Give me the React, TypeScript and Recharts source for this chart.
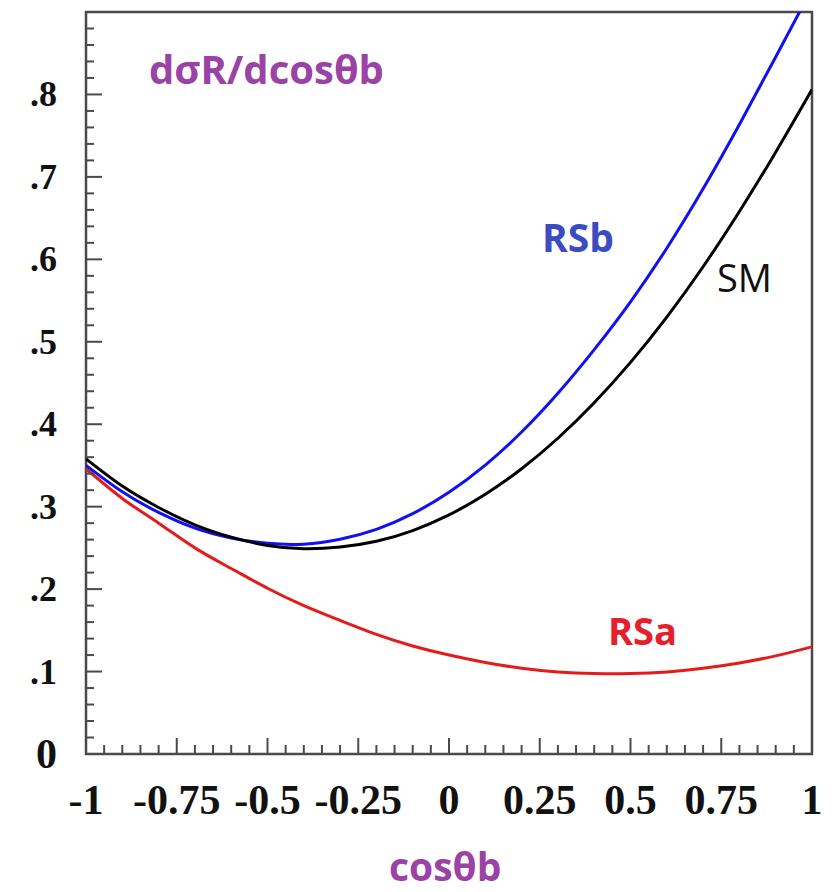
import React from 'react';
import { ComposedChart, Line, XAxis, YAxis, ReferenceArea, Customized } from 'recharts';

const cosTheta = [-1, -0.9, -0.8, -0.7, -0.6, -0.5, -0.4, -0.3, -0.2, -0.1, 0, 0.1, 0.2, 0.3, 0.4, 0.5, 0.6, 0.7, 0.8, 0.9, 1];
const smValues = [0.358, 0.325, 0.299, 0.278, 0.263, 0.253, 0.249, 0.251, 0.258, 0.271, 0.29, 0.315, 0.346, 0.383, 0.426, 0.475, 0.53, 0.591, 0.658, 0.73, 0.806];
const rsbValues = [0.35, 0.318, 0.293, 0.274, 0.262, 0.2555, 0.2545, 0.2605, 0.2725, 0.2915, 0.3175, 0.3505, 0.3905, 0.4375, 0.4905, 0.5485, 0.6135, 0.6855, 0.7635, 0.8455, 0.9285];
const rsaValues = [0.346, 0.31, 0.28, 0.25, 0.225, 0.201, 0.18, 0.162, 0.145, 0.131, 0.12, 0.111, 0.104, 0.0995, 0.0975, 0.0975, 0.0995, 0.104, 0.1105, 0.119, 0.13];

const xMajorTicks = [-1, -0.75, -0.5, -0.25, 0, 0.25, 0.5, 0.75, 1];
const xTickLabels = ['-1', '-0.75', '-0.5', '-0.25', '0', '0.25', '0.5', '0.75', '1'];
const yMajorTicks = [0, 0.1, 0.2, 0.3, 0.4, 0.5, 0.6, 0.7, 0.8];
const yTickLabels = ['0', '.1', '.2', '.3', '.4', '.5', '.6', '.7', '.8'];

const xAllTicks = Array.from({ length: 41 }, (_, i) => Math.round((-1 + i * 0.05) * 100) / 100);
const yAllTicks = Array.from({ length: 45 }, (_, i) => Math.round(i * 0.02 * 100) / 100);

const data = cosTheta.map((c, i) => ({ c, sm: smValues[i], rsb: rsbValues[i], rsa: rsaValues[i] }));

const AXIS = '#4a4a4a';
const PURPLE = '#9a42a6';
const SERIF = '"Liberation Serif", "Times New Roman", serif';
const SANS = '"Open Sans", "DejaVu Sans", sans-serif';

const XTick = (props: any) => {
  const { x, y, payload } = props;
  const v = payload.value;
  const idx = xMajorTicks.findIndex((t) => Math.abs(t - v) < 1e-6);
  const major = idx >= 0;
  return (
    <g>
      <line x1={x} x2={x} y1={y} y2={y - (major ? 16 : 9)} stroke={AXIS} strokeWidth={2} />
      {major && (
        <text x={x} y={y + 60} textAnchor="middle" fontFamily={SERIF} fontWeight="bold" fontSize={42} fill="#111">
          {xTickLabels[idx]}
        </text>
      )}
    </g>
  );
};

const YTick = (props: any) => {
  const { x, y, payload } = props;
  const v = payload.value;
  const idx = yMajorTicks.findIndex((t) => Math.abs(t - v) < 1e-6);
  const major = idx >= 0;
  const isZero = idx === 0;
  return (
    <g>
      <line x1={x} x2={x + (major ? 16 : 8)} y1={y} y2={y} stroke={AXIS} strokeWidth={2} />
      {major && (
        <text
          x={x - 29}
          y={y + (isZero ? 14 : 12)}
          textAnchor="end"
          fontFamily={SERIF}
          fontWeight="bold"
          fontSize={isZero ? 42 : 36}
          fill="#111"
        >
          {yTickLabels[idx]}
        </text>
      )}
    </g>
  );
};

const Annotations = () => (
  <g>
    <text x={149} y={84} fontFamily={SANS} fontWeight="bold" fontSize={40} fill={PURPLE}>dσR/dcosθb</text>
    <text x={542} y={252} fontFamily={SANS} fontWeight="bold" fontSize={39} fill="#3b4bc4">RSb</text>
    <text x={717} y={292} fontFamily={SANS} fontSize={38} fill="#111">SM</text>
    <text x={608} y={645} fontFamily={SANS} fontWeight="bold" fontSize={38} fill="#e5202a">RSa</text>
    <text x={389} y={881} fontFamily={SANS} fontWeight="bold" fontSize={39} fill={PURPLE}>cosθb</text>
  </g>
);

export default function App() {
  return (
    <div style={{ position: 'absolute', left: 0, top: 0, width: 838, height: 892, background: '#fff' }}>
      <ComposedChart width={838} height={892} data={data} margin={{ top: 12, right: 26, left: 85, bottom: 137 }}>
        <XAxis
          dataKey="c"
          type="number"
          domain={[-1, 1]}
          allowDataOverflow
          ticks={xAllTicks}
          interval={0}
          tick={<XTick />}
          tickLine={false}
          axisLine={false}
          tickSize={0}
          tickMargin={0}
          height={1}
        />
        <YAxis
          type="number"
          domain={[0, 0.9]}
          allowDataOverflow
          ticks={yAllTicks}
          interval={0}
          tick={<YTick />}
          tickLine={false}
          axisLine={false}
          tickSize={0}
          tickMargin={0}
          width={1}
        />
        <ReferenceArea x1={-1} x2={1} y1={0} y2={0.9} fill="none" stroke={AXIS} strokeWidth={2.5} />
        <Line type="natural" dataKey="rsa" stroke="#e41b1b" strokeWidth={3} dot={false} isAnimationActive={false} />
        <Line type="natural" dataKey="rsb" stroke="#1010f0" strokeWidth={3} dot={false} isAnimationActive={false} />
        <Line type="natural" dataKey="sm" stroke="#000" strokeWidth={3} dot={false} isAnimationActive={false} />
        <Customized component={Annotations} />
      </ComposedChart>
    </div>
  );
}
